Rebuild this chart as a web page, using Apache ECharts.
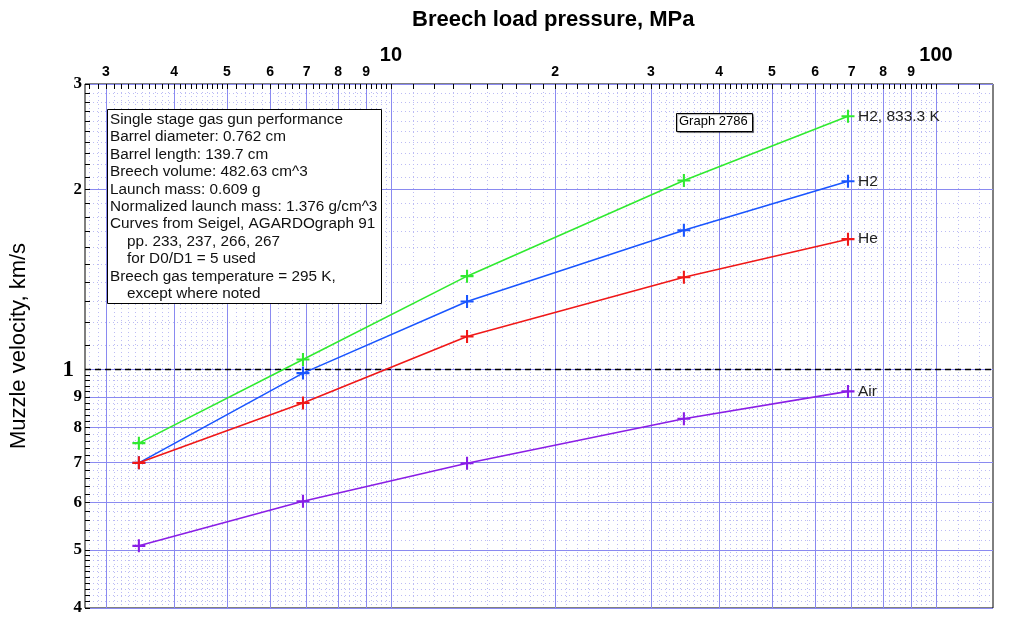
<!DOCTYPE html>
<html>
<head>
<meta charset="utf-8">
<script src="https://cdn.jsdelivr.net/npm/echarts@6/dist/echarts.min.js"></script>
<style>
  html, body { margin: 0; padding: 0; background: #fff; }
  #chart { width: 1009px; height: 617px; }
</style>
</head>
<body>
<div id="chart"></div>
<script>
// breech pressure (MPa) at the five test points
const pressureMPa = [3.447, 6.895, 13.79, 34.47, 68.95]

// muzzle velocity, km/s
const velH2Hot = [0.754, 1.04, 1.433, 2.07, 2.65]
const velH2 = [0.699, 0.987, 1.30, 1.71, 2.064]
const velHe = [0.699, 0.880, 1.136, 1.427, 1.652]
const velAir = [0.508, 0.603, 0.698, 0.828, 0.920]

const seriesNames = ['H2, 833.3 K', 'H2', 'He', 'Air']
const seriesColors = ['#30ea30', '#1a56ff', '#f01818', '#8a1ee6']

// tick labels
const xMajorTicks = [3, 4, 5, 6, 7, 8, 9, 10, 20, 30, 40, 50, 60, 70, 80, 90, 100]
const yMajorTicks = [0.4, 0.5, 0.6, 0.7, 0.8, 0.9, 1, 2, 3]

const infoLines = [
  'Single stage gas gun performance',
  'Barrel diameter: 0.762 cm',
  'Barrel length: 139.7 cm',
  'Breech volume: 482.63 cm^3',
  'Launch mass: 0.609 g',
  'Normalized launch mass: 1.376 g/cm^3',
  'Curves from Seigel, AGARDOgraph 91',
  '    pp. 233, 237, 266, 267',
  '    for D0/D1 = 5 used',
  'Breech gas temperature = 295 K,',
  '    except where noted'
]

const log = (v) => Math.log10(v)

// axis extents (log10 space)
const xMin = 0.4386
const xMax = 2.1046
const yMin = log(0.4)
const yMax = log(3)

// minor grid values: 0.1 steps below mantissa 5, 0.2 steps above
function minorTicks(decades) {
  const out = []
  decades.forEach((d) => {
    for (let m = 10; m < 100; m += m < 50 ? 1 : 2) {
      if (m % 10 === 0) continue
      out.push(log((m / 10) * d))
    }
  })
  return out
}

const xMinor = minorTicks([1, 10, 100])
const yMinor = minorTicks([0.1, 1])
const xMajorLog = xMajorTicks.map(log)
const yMajorLog = yMajorTicks.map(log)

const fmt = (v) => {
  const n = Math.round(Math.pow(10, v) * 1000) / 1000
  const e = Math.floor(Math.log10(n) + 1e-9)
  const mant = Math.round(n / Math.pow(10, e))
  return { n, mant }
}

const minorGridStyle = { color: '#bcbcf4', width: 1, type: [1, 3] }
const majorGridStyle = { color: '#8a8af0', width: 1 }

const chart = echarts.init(document.getElementById('chart'))

const lineSeries = [velH2Hot, velH2, velHe, velAir].map((vals, i) => ({
  name: seriesNames[i],
  type: 'line',
  xAxisIndex: 0,
  yAxisIndex: 0,
  data: pressureMPa.map((p, k) => [log(p), log(vals[k])]),
  symbol: 'path://M4.2,0H5.8V4.2H10V5.8H5.8V10H4.2V5.8H0V4.2H4.2Z',
  symbolSize: 13,
  itemStyle: { color: seriesColors[i] },
  lineStyle: { color: seriesColors[i], width: 1.6 },
  endLabel: {
    show: true,
    formatter: '{a}',
    color: '#222',
    fontFamily: 'Liberation Sans',
    fontSize: 15.5,
    distance: 10
  },
  z: 10 + i,
  animation: false
}))

lineSeries.push({
  type: 'line',
  data: [],
  xAxisIndex: 0,
  yAxisIndex: 0,
  markLine: {
    silent: true,
    symbol: 'none',
    label: { show: false },
    lineStyle: { color: '#000', type: [6, 4], width: 1.4 },
    data: [{ yAxis: log(1) }]
  },
  z: 5,
  animation: false
})

chart.setOption({
  animation: false,
  backgroundColor: '#fff',
  grid: {
    left: 85,
    top: 84,
    width: 908,
    height: 524,
    containLabel: false,
    outerBoundsMode: 'none',
    show: true,
    borderColor: '#000',
    borderWidth: 1,
    backgroundColor: 'transparent'
  },
  title: {
    text: 'Breech load pressure, MPa',
    left: 407,
    top: 4,
    textStyle: { fontFamily: 'Liberation Sans', fontSize: 22, fontWeight: 'bold', color: '#000' }
  },
  xAxis: [
    {
      type: 'value',
      position: 'top',
      min: xMin,
      max: xMax,
      axisLine: { show: false, onZero: false },
      axisTick: {
        show: true,
        inside: true,
        length: 5,
        lineStyle: { color: '#000' },
        customValues: xMinor.concat(xMajorLog)
      },
      axisLabel: {
        customValues: xMajorLog,
        margin: 5,
        formatter: (v) => {
          const { n, mant } = fmt(v)
          return mant === 1 && n >= 10 ? '{big|' + n + '}' : '{small|' + mant + '}'
        },
        rich: {
          small: { fontFamily: 'Liberation Sans', fontWeight: 'bold', fontSize: 14, color: '#000' },
          big: { fontFamily: 'Liberation Sans', fontWeight: 'bold', fontSize: 20, color: '#000', padding: [0, 0, 14, 0] }
        }
      },
      splitLine: { show: true, lineStyle: minorGridStyle }
    },
    {
      type: 'value',
      position: 'bottom',
      min: xMin,
      max: xMax,
      axisLine: { show: false, onZero: false },
      axisTick: { show: false, customValues: xMajorLog },
      axisLabel: { show: false },
      splitLine: { show: true, lineStyle: majorGridStyle }
    }
  ],
  yAxis: [
    {
      type: 'value',
      position: 'left',
      min: yMin,
      max: yMax,
      name: 'Muzzle velocity, km/s',
      nameLocation: 'middle',
      nameGap: 55,
      nameTextStyle: { fontFamily: 'Liberation Sans', fontSize: 22, color: '#000' },
      axisLine: { show: false, onZero: false },
      axisTick: {
        show: true,
        inside: true,
        length: 5,
        lineStyle: { color: '#000' },
        customValues: yMinor.concat(yMajorLog)
      },
      axisLabel: {
        customValues: yMajorLog,
        margin: 3,
        formatter: (v) => {
          const { n, mant } = fmt(v)
          return n === 1 ? '{big|1}' : '{small|' + mant + '}'
        },
        rich: {
          small: { fontFamily: 'Liberation Serif', fontWeight: 'bold', fontSize: 17, color: '#000' },
          big: { fontFamily: 'Liberation Serif', fontWeight: 'bold', fontSize: 23, color: '#000', padding: [0, 8, 0, 0] }
        }
      },
      splitLine: { show: true, lineStyle: minorGridStyle }
    },
    {
      type: 'value',
      position: 'right',
      min: yMin,
      max: yMax,
      axisLine: { show: false, onZero: false },
      axisTick: { show: false, customValues: yMajorLog },
      axisLabel: { show: false },
      splitLine: { show: true, lineStyle: majorGridStyle }
    }
  ],
  graphic: [
    {
      type: 'rect',
      left: 107,
      top: 109,
      z: 100,
      shape: { x: 0, y: 0, width: 274, height: 194 },
      style: { fill: '#fff', stroke: '#000', lineWidth: 1 }
    },
    {
      type: 'text',
      left: 110,
      top: 111,
      z: 101,
      style: {
        text: infoLines.join('\n'),
        fontFamily: 'Liberation Sans',
        fontSize: 15.3,
        lineHeight: 17.4,
        fill: '#111'
      }
    },
    {
      type: 'rect',
      left: 676,
      top: 113,
      z: 100,
      shape: { x: 0, y: 0, width: 76, height: 18 },
      style: { fill: '#fff', stroke: '#000', lineWidth: 1, shadowColor: 'rgba(0,0,0,0.35)', shadowOffsetX: 1, shadowOffsetY: 1, shadowBlur: 1 }
    },
    {
      type: 'text',
      left: 679,
      top: 115,
      z: 101,
      style: {
        text: 'Graph 2786',
        fontFamily: 'Liberation Sans',
        fontSize: 13,
        fill: '#000'
      }
    }
  ],
  series: lineSeries
})

window.addEventListener('resize', () => chart.resize())
</script>
</body>
</html>
